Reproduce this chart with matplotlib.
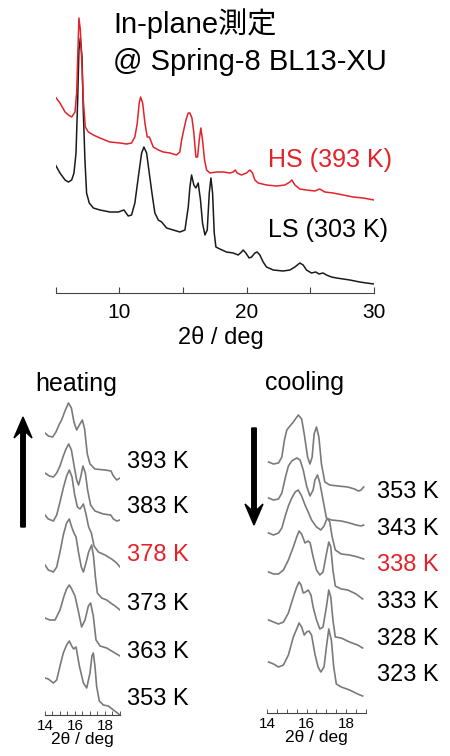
import matplotlib
matplotlib.use("Agg")
import matplotlib.pyplot as plt
from matplotlib.patches import FancyArrow

plt.rcParams['font.family'] = ['Liberation Sans', 'Noto Sans CJK JP']

#%% datos

# panel superior, 2theta 5-30
tt_ls = [5.0, 5.35, 5.75, 6.01, 6.27, 6.45, 6.61, 6.74, 6.84, 6.95, 7.08, 7.18, 7.31, 7.44, 7.65, 7.97,
         8.49, 9.27, 9.93, 10.37, 10.71, 10.97, 11.23, 11.5, 11.76, 11.94, 12.15, 12.36, 12.57, 12.8,
         13.07, 13.33, 13.46, 13.72, 14.24, 14.76, 15.16, 15.42, 15.55, 15.68, 15.86, 16.02, 16.2,
         16.38, 16.54, 16.73, 16.91, 17.07, 17.2, 17.33, 17.46, 17.59, 17.9, 18.42, 18.95, 19.34,
         19.6, 19.73, 19.94, 20.2, 20.39, 20.65, 20.83, 21.04, 21.3, 21.56, 22.09, 22.87, 23.4,
         23.79, 24.18, 24.44, 24.7, 25.09, 25.43, 25.69, 26.0, 26.27, 26.66, 27.05, 27.58, 28.1,
         28.49, 28.88, 29.41, 30.0]
int_ls = [128, 120, 113, 111, 113, 120, 140, 193, 243, 255, 236, 183, 133, 100, 90, 85,
          83, 81, 81, 83, 77, 78, 90, 116, 140, 146, 140, 120, 100, 80,
          73, 71, 69, 65, 63, 61, 63, 86, 106, 118, 108, 105, 110,
          93, 70, 58, 63, 100, 115, 100, 60, 46, 44, 41, 40, 38,
          41, 43, 40, 35, 36, 40, 41, 38, 31, 26, 23, 22, 23,
          26, 30, 28, 23, 20, 21, 19, 20, 18, 16, 15, 14, 13,
          12, 11, 10, 9]

tt_hs = [5.0, 5.35, 5.75, 6.01, 6.27, 6.53, 6.66, 6.76, 6.84, 6.95, 7.08, 7.18, 7.34, 7.58, 7.97,
         8.49, 9.27, 10.06, 10.58, 10.97, 11.23, 11.42, 11.57, 11.68, 11.84, 12.02, 12.2, 12.36,
         12.46, 12.67, 13.07, 13.46, 13.98, 14.5, 14.76, 14.9, 15.03, 15.24, 15.42, 15.55, 15.71,
         15.86, 16.02, 16.15, 16.28, 16.41, 16.54, 16.7, 16.86, 17.12, 17.64, 18.16, 18.69, 18.95,
         19.11, 19.26, 19.6, 19.99, 20.26, 20.46, 20.65, 20.91, 21.56, 22.35, 23.0, 23.4, 23.55,
         23.79, 24.18, 24.7, 25.35, 25.74, 26.14, 26.79, 27.58, 28.36, 29.14, 30.0]
int_hs = [126, 120, 111, 108, 106, 111, 130, 173, 205, 193, 156, 123, 96, 91, 88,
          85, 81, 80, 79, 80, 86, 100, 120, 126, 120, 100, 86, 86,
          83, 76, 73, 71, 70, 68, 71, 83, 91, 103, 110, 110, 105,
          90, 66, 66, 83, 95, 83, 63, 53, 50, 51, 51, 50, 51,
          53, 50, 48, 50, 53, 50, 43, 40, 38, 37, 38, 41, 43,
          38, 34, 33, 32, 34, 31, 30, 28, 26, 25, 23]

# heating (14-19 deg), de 393 K a 353 K
heat_temps = ["393 K", "383 K", "378 K", "373 K", "363 K", "353 K"]
heat_tt = [
    [14.0, 14.22, 14.51, 14.73, 14.96, 15.11, 15.33, 15.56, 15.76, 15.93, 16.11, 16.29, 16.49, 16.64,
     16.82, 17.0, 17.33, 18.0, 18.4, 18.56, 18.78, 19.0],
    [14.0, 14.29, 14.56, 14.78, 15.0, 15.22, 15.4, 15.58, 15.76, 15.93, 16.11, 16.24, 16.38, 16.53,
     16.69, 16.84, 17.04, 17.33, 17.89, 18.38, 18.56, 18.78, 19.0],
    [14.0, 14.22, 14.56, 14.78, 15.0, 15.22, 15.44, 15.62, 15.8, 15.98, 16.16, 16.33, 16.56, 16.73,
     16.91, 17.09, 17.27, 17.56, 18.0, 18.44, 18.78, 19.0],
    [14.0, 14.22, 14.56, 14.78, 15.0, 15.22, 15.44, 15.62, 15.78, 15.93, 16.07, 16.24, 16.42, 16.56,
     16.73, 16.91, 17.11, 17.24, 17.36, 17.49, 17.78, 18.11, 18.38, 18.67, 19.0],
    [14.0, 14.33, 14.67, 15.0, 15.27, 15.44, 15.62, 15.78, 16.0, 16.22, 16.44, 16.67, 16.89, 17.04,
     17.22, 17.4, 17.67, 18.11, 18.44, 19.0],
    [14.0, 14.22, 14.56, 14.78, 15.0, 15.22, 15.44, 15.62, 15.78, 15.91, 16.07, 16.29, 16.56, 16.78,
     17.0, 17.13, 17.22, 17.33, 17.44, 17.62, 17.89, 18.22, 18.56, 19.0],
]
heat_int = [
    [0, -3, -4, 1, 9, 13, 22, 30, 25, 11, 3, 8, 13, 4, -21, -31, -36, -37, -38, -43, -47, -45],
    [0, -3, -4, 0, 7, 17, 24, 29, 23, 8, -7, -12, -4, 7, 0, -17, -32, -38, -41, -42, -46, -48, -47],
    [0, -4, -6, 0, 13, 27, 39, 45, 38, 20, 8, 6, 11, 1, -12, -18, -31, -37, -40, -44, -48, -52],
    [0, -5, -7, -2, 13, 30, 42, 46, 38, 32, 28, 12, -2, -7, 2, 13, 20, 8, -12, -28, -33, -35, -38, -41, -45],
    [0, -2, -2, 8, 22, 29, 33, 29, 22, 7, -9, -2, 12, 15, 2, -22, -28, -30, -33, -38],
    [0, -1, -5, -2, 12, 25, 33, 37, 32, 29, 31, 12, -5, -10, 5, 22, 25, 12, -8, -23, -27, -28, -32, -37],
]

# cooling (14-19 deg), de 353 K a 323 K
cool_temps = ["353 K", "343 K", "338 K", "333 K", "328 K", "323 K"]
cool_tt = [
    [14.08, 14.33, 14.58, 14.75, 14.88, 15.0, 15.12, 15.33, 15.58, 15.75, 15.88, 16.05, 16.17, 16.28,
     16.38, 16.5, 16.62, 16.75, 16.92, 17.17, 17.58, 18.08, 18.42, 18.62, 18.75, 18.88],
    [14.08, 14.33, 14.58, 14.75, 14.92, 15.08, 15.25, 15.5, 15.67, 15.83, 16.0, 16.17, 16.33, 16.42,
     16.55, 16.67, 16.83, 17.0, 17.25, 17.75, 18.17, 18.5, 18.75, 18.88],
    [14.08, 14.33, 14.58, 14.75, 14.92, 15.08, 15.25, 15.42, 15.58, 15.75, 15.92, 16.08, 16.25, 16.5,
     16.72, 16.88, 17.0, 17.08, 17.17, 17.28, 17.45, 17.75, 18.17, 18.58, 18.88],
    [14.08, 14.33, 14.58, 14.83, 15.08, 15.33, 15.5, 15.62, 15.75, 15.92, 16.08, 16.18, 16.33, 16.5,
     16.67, 16.83, 17.0, 17.12, 17.22, 17.33, 17.45, 17.75, 18.08, 18.5, 18.83],
    [14.08, 14.33, 14.58, 14.83, 15.08, 15.33, 15.5, 15.62, 15.72, 15.83, 15.95, 16.08, 16.22, 16.33,
     16.5, 16.67, 16.83, 17.0, 17.12, 17.22, 17.33, 17.45, 17.75, 18.17, 18.58, 18.83],
    [14.08, 14.33, 14.58, 14.83, 15.08, 15.33, 15.5, 15.62, 15.75, 15.88, 16.0, 16.12, 16.25, 16.42,
     16.58, 16.72, 16.88, 17.0, 17.12, 17.25, 17.37, 17.5, 17.75, 18.17, 18.58, 18.83],
]
cool_int = [
    [0, -2, -1, 5, 22, 32, 35, 40, 47, 43, 28, 5, -2, 5, 28, 35, 25, -2, -20, -23, -24, -25, -27, -29, -28, -25],
    [0, -2, -1, 5, 20, 32, 37, 40, 38, 28, 12, 2, 8, 18, 23, 15, -2, -20, -22, -23, -25, -27, -28, -27],
    [0, -2, 0, 5, 17, 27, 35, 41, 43, 37, 28, 21, 13, 6, 3, 7, 13, 14, 11, -3, -17, -21, -22, -24, -26],
    [0, -2, -2, 2, 12, 25, 35, 41, 38, 29, 31, 29, 15, 2, -3, 0, 18, 30, 25, 2, -14, -17, -18, -22, -27],
    [0, -2, -4, -2, 7, 23, 33, 38, 35, 27, 28, 30, 25, 13, 0, -9, -7, 13, 30, 23, 0, -17, -18, -22, -25, -28],
    [0, -2, -5, -3, 7, 25, 33, 39, 35, 27, 30, 31, 27, 8, -5, -10, -5, 15, 33, 22, -5, -22, -25, -28, -32, -34],
]

#%% figura
W, H = 450, 756
rojo = "#e3222b"
gris = "#7a7a7a"

fig = plt.figure(figsize=(W / 100, H / 100), dpi=100)


def caja(x0, x1, y_top, y_bot):
    # posicion en pixeles (origen arriba a la izquierda) -> fraccion de figura
    return [x0 / W, 1 - y_bot / H, (x1 - x0) / W, (y_bot - y_top) / H]


def texto(x, y, s, **kw):
    fig.text(x / W, 1 - y / H, s, va="baseline", **kw)


def ejes_limpios(ax):
    for lado in ["top", "left", "right"]:
        ax.spines[lado].set_visible(False)
    ax.spines["bottom"].set_color("#444444")
    ax.spines["bottom"].set_linewidth(0.8)
    ax.set_yticks([])
    ax.patch.set_alpha(0)


# panel superior
ax = fig.add_axes(caja(55.5, 374, 0, 293))
ax.plot(tt_ls, int_ls, color="#1a1a1a", lw=1.1)
ax.plot(tt_hs, [v + 70 for v in int_hs], color=rojo, lw=1.1)
ax.set_xlim(5, 30)
ax.set_ylim(0, 293)
ejes_limpios(ax)
ax.set_xticks([10, 20, 30])
ax.set_xticks([5, 15, 25], minor=True)
ax.tick_params(axis="x", which="both", direction="in", length=4, width=0.8, color="#444444")
ax.tick_params(axis="x", labelsize=15, pad=7)
ax.set_xlabel("2θ / deg", fontsize=17, labelpad=0)
ax.xaxis.set_label_coords(0.52, -0.113)

texto(113, 33, "In-plane測定", fontsize=21)
texto(113, 70, "@ Spring-8 BL13-XU", fontsize=21)
texto(268, 167, "HS (393 K)", fontsize=18, color=rojo)
texto(268, 237, "LS (303 K)", fontsize=18)

# paneles inferiores
paneles = [
    (caja(45, 120, 390, 715), 325, heat_tt, heat_int, [282, 242, 200, 150, 97, 37]),
    (caja(267, 366, 400, 713), 313, cool_tt, cool_int, [251, 215, 180, 141, 93, 51]),
]
for pos, ytop, tts, ints, offs in paneles:
    axb = fig.add_axes(pos)
    for tt, it, off in zip(tts, ints, offs):
        axb.plot(tt, [v + off for v in it], color=gris, lw=1.2)
    axb.set_xlim(14, 19)
    axb.set_ylim(0, ytop)
    ejes_limpios(axb)
    axb.set_xticks([14, 16, 18])
    axb.set_xticks([14.5 + 0.5 * k for k in range(10)], minor=True)
    axb.tick_params(axis="x", which="both", direction="in", length=3, width=0.7, color="#555555")
    axb.tick_params(axis="x", labelsize=11, pad=3)
    axb.set_xlabel("2θ / deg", fontsize=12.5, labelpad=-1)

texto(35, 391, "heating", fontsize=18)
texto(265, 390, "cooling", fontsize=18)

for t, yb in zip(heat_temps, [468, 513, 561, 610, 658, 705]):
    texto(127, yb, t, fontsize=17, color=rojo if t == "378 K" else "black")
for t, yb in zip(cool_temps, [498, 535, 571, 608, 645, 681]):
    texto(377, yb, t, fontsize=17, color=rojo if t == "338 K" else "black")

# flechas (en pulgadas, origen abajo)
fig.patches.append(FancyArrow(0.23, (H - 527) / 100, 0, 1.10, width=0.045, head_width=0.18,
                              head_length=0.21, overhang=0.3, length_includes_head=True,
                              color="black", transform=fig.dpi_scale_trans, figure=fig))
fig.patches.append(FancyArrow(2.54, (H - 428) / 100, 0, -0.97, width=0.045, head_width=0.18,
                              head_length=0.21, overhang=0.3, length_includes_head=True,
                              color="black", transform=fig.dpi_scale_trans, figure=fig))

fig.savefig("out.png", dpi=100)
